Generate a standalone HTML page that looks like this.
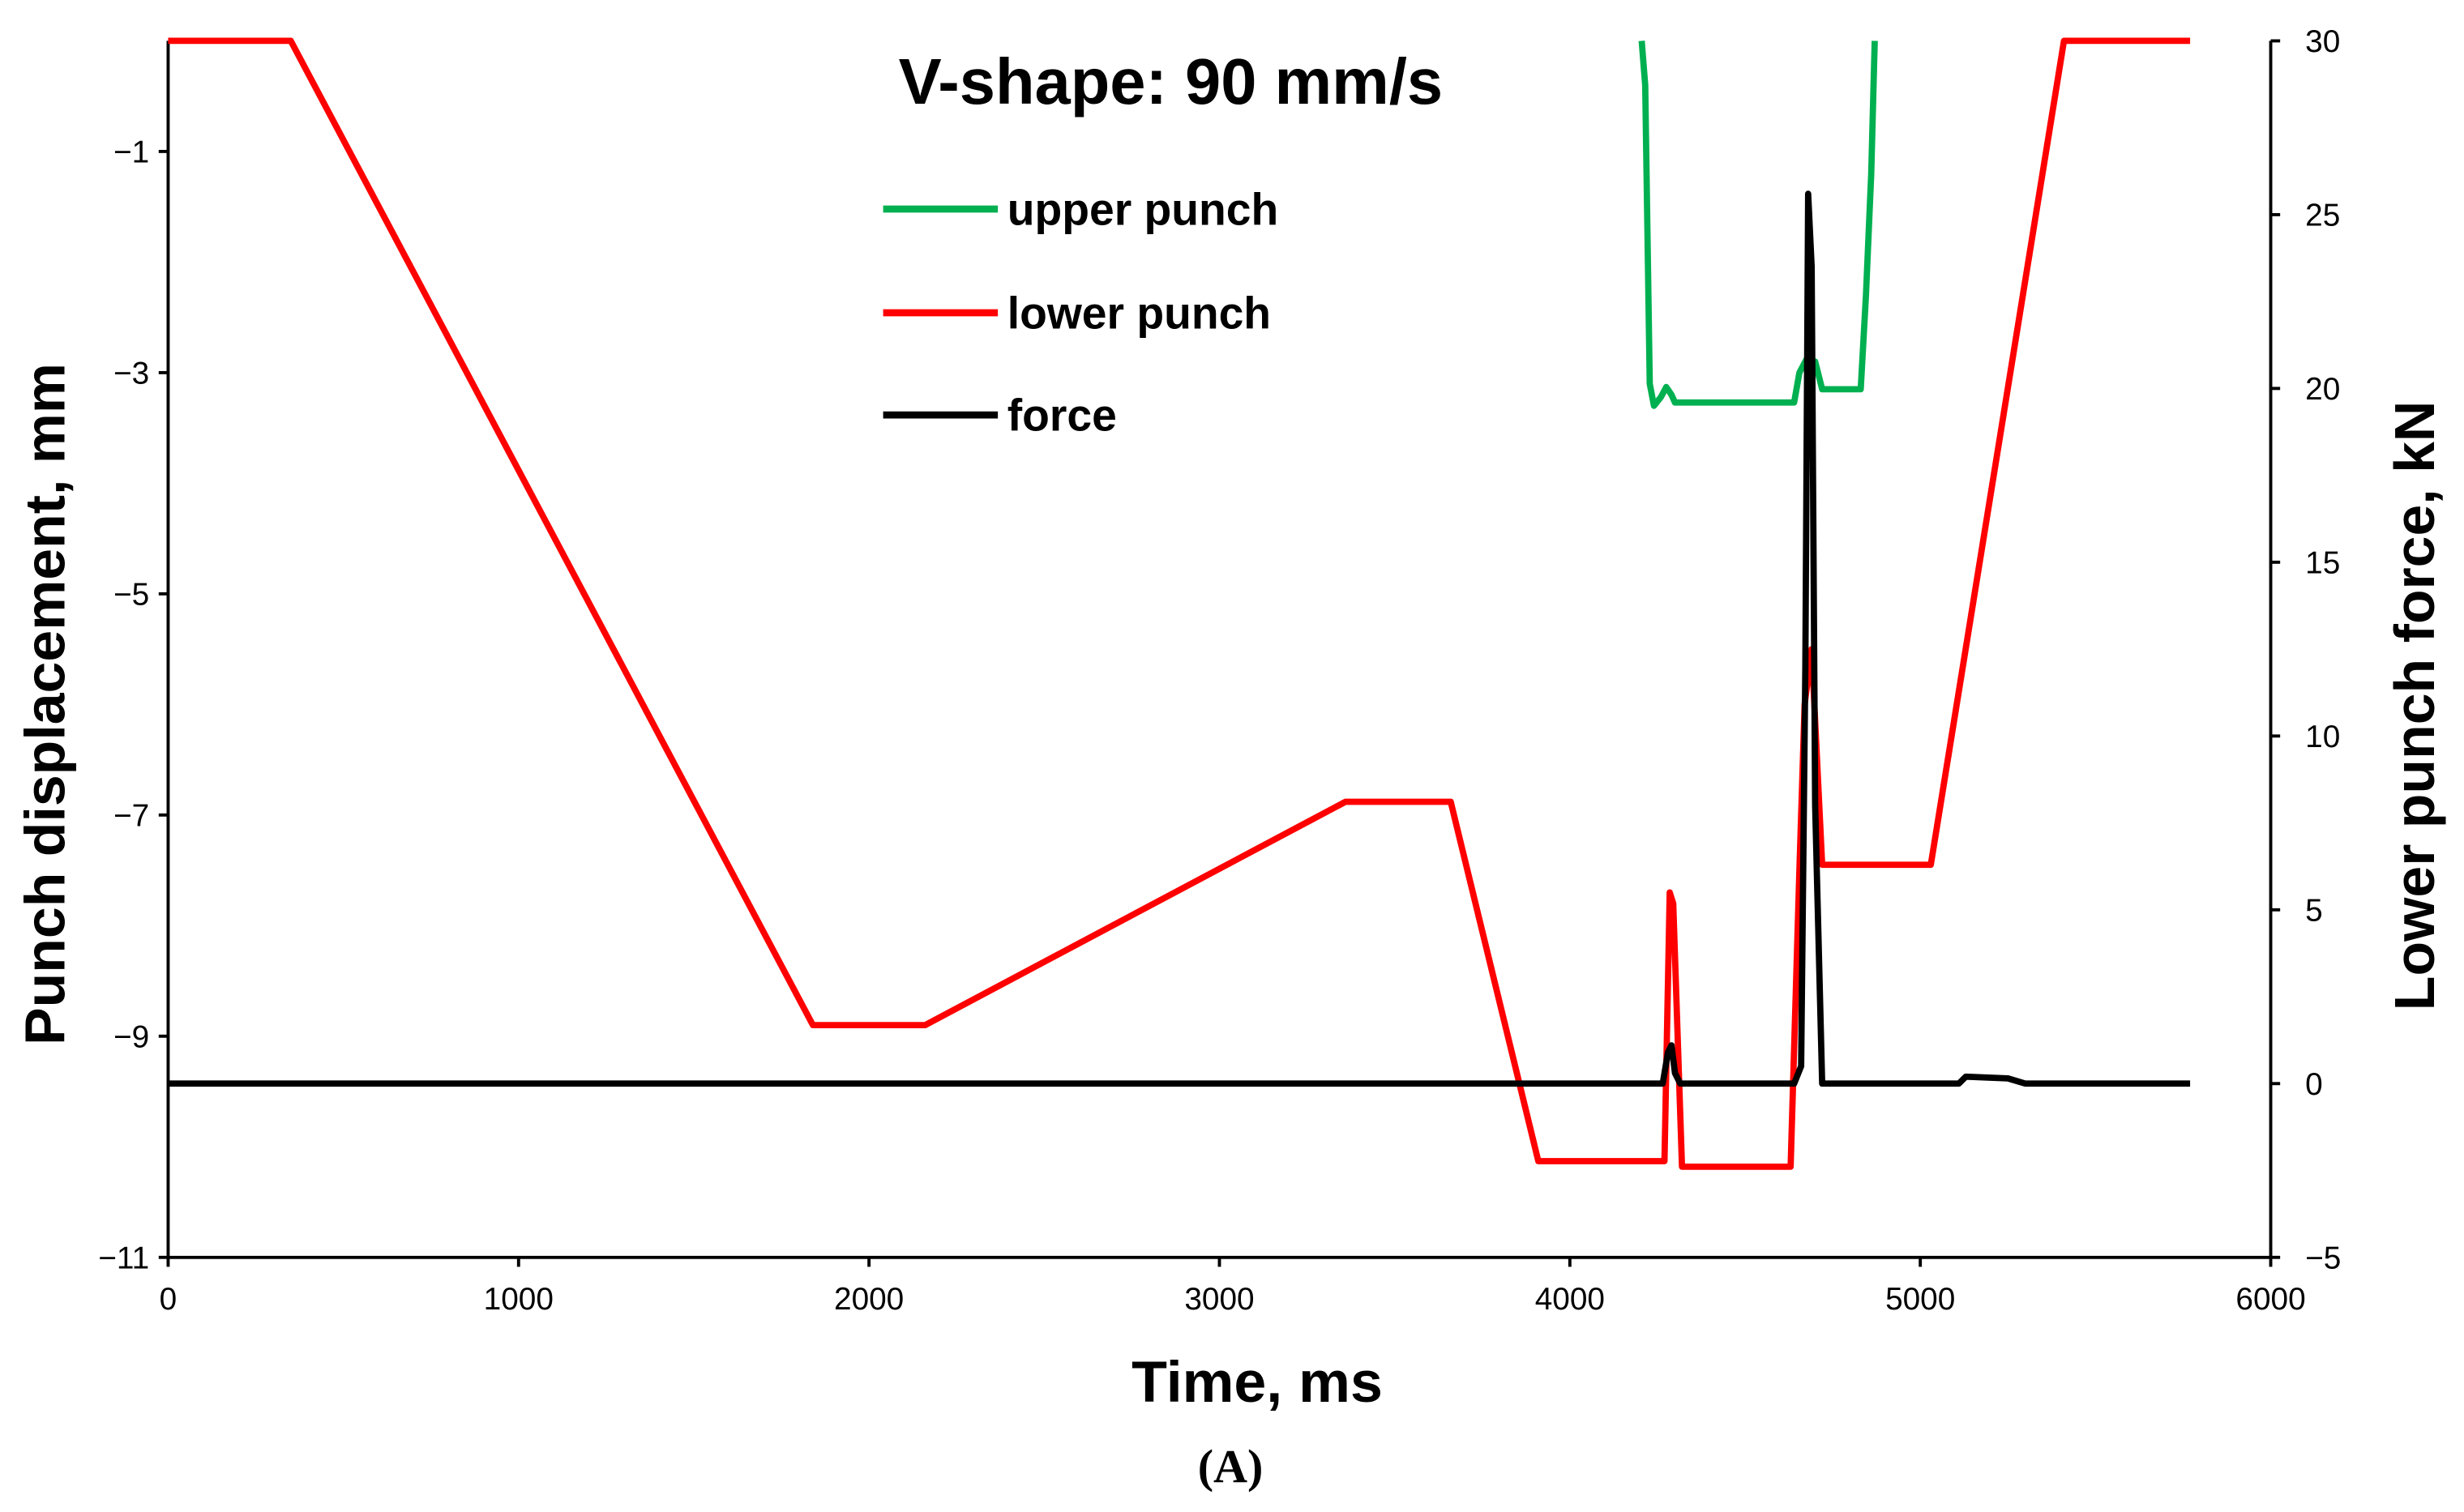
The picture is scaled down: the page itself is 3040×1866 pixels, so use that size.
<!DOCTYPE html>
<html><head><meta charset="utf-8">
<style>
html,body{margin:0;padding:0;background:#fff;}
svg{display:block;}
</style></head>
<body>
<svg id="chart" width="3040" height="1866" viewBox="0 0 1568 962" preserveAspectRatio="none" xmlns="http://www.w3.org/2000/svg" font-family="Liberation Sans, Arial, sans-serif">
<rect x="0" y="0" width="1568" height="962" fill="#fff"/>
</svg>
<script>
const xTicks=[0,1000,2000,3000,4000,5000,6000];
const yLeftTicks=[-1,-3,-5,-7,-9,-11];
const yRightTicks=[30,25,20,15,10,5,0,-5];
const lowerT=[0,350,1840,2160,3360,3660,3910,4270,4285,4295,4320,4630,4655,4670,4690,4720,5030,5410,5770];
const lowerV=[0,0,-8.9,-8.9,-6.88,-6.88,-10.13,-10.13,-7.7,-7.8,-10.18,-10.18,-7.5,-6.0,-5.5,-7.45,-7.45,0,0];
const upperT=[4205,4215,4228,4240,4260,4275,4290,4300,4640,4655,4675,4700,4720,4830,4845,4860,4870];
const upperV=[0,-0.4,-3.1,-3.3,-3.22,-3.13,-3.2,-3.27,-3.27,-3.0,-2.88,-2.9,-3.15,-3.15,-2.3,-1.2,0];
const forceT=[0,4265,4280,4290,4300,4315,4640,4660,4672,4680,4690,4700,4720,5110,5130,5250,5300,5770];
const forceV=[0,0,0.9,1.1,0.3,0,0,0.5,12,25.6,23.5,8,0,0,0.2,0.15,0,0];

const X0=107,X1=1445,YT=26,YB=800;
const sx=t=>X0+(t/6000)*(X1-X0);
const syL=v=>YB+(v+11)/11*(YT-YB);
const syR=v=>YB+(v+5)/35*(YT-YB);
const svg=document.getElementById('chart');
const NS='http://www.w3.org/2000/svg';
function mk(tag,attrs,txt){const e=document.createElementNS(NS,tag);for(const k in attrs)e.setAttribute(k,attrs[k]);if(txt!==undefined)e.textContent=txt;svg.appendChild(e);return e;}

let a=mk('line',{x1:X0,y1:YB,x2:X1,y2:YB,stroke:'#000','stroke-width':2});


a=mk('line',{x1:X0,y1:YT,x2:X0,y2:YB,stroke:'#000','stroke-width':2});


a=mk('line',{x1:X1,y1:YT,x2:X1,y2:YB,stroke:'#000','stroke-width':2});



xTicks.forEach(t=>{
  const x=sx(t);
  const l=mk('line',{x1:x,y1:YB,x2:x,y2:YB+6,stroke:'#000','stroke-width':2});
  
  
  const tx=mk('text',{x:x,y:YB+33,'font-size':20,'text-anchor':'middle'},String(t));
  
  
});
yLeftTicks.forEach(v=>{
  const y=syL(v);
  const l=mk('line',{x1:X0-6,y1:y,x2:X0,y2:y,stroke:'#000','stroke-width':2});
  
  
  const tx=mk('text',{x:X0-12,y:y+7,'font-size':20,'text-anchor':'end'},'\u2212'+Math.abs(v));
  
  
});
yRightTicks.forEach(v=>{
  const y=syR(v);
  const l=mk('line',{x1:X1,y1:y,x2:X1+6,y2:y,stroke:'#000','stroke-width':2});
  
  
  const tx=mk('text',{x:X1+22,y:y+7,'font-size':20,'text-anchor':'start'},v<0?'\u2212'+Math.abs(v):String(v));
  
  
});

function series(T,V,sy,color,w,name){
  const d=T.map((t,i)=>(i?'L':'M')+sx(t).toFixed(2)+' '+sy(V[i]).toFixed(2)).join(' ');
  const p=mk('path',{d:d,fill:'none',stroke:color,'stroke-width':w,'stroke-linejoin':'round'});
  
  
}
series(lowerT,lowerV,syL,'#ff0000',4,'lower-punch-line');
series(upperT,upperV,syL,'#00b050',4,'upper-punch-line');
series(forceT,forceV,syR,'#000000',4,'force-line');

const leg=[['upper punch','#00b050',133],['lower punch','#ff0000',199],['force','#000000',264]];
leg.forEach(([lab,c,y])=>{
  const l=mk('line',{x1:562,y1:y,x2:635,y2:y,stroke:c,'stroke-width':4.5});
  
  
  const t=mk('text',{x:641,y:y+10,'font-size':28.5,'font-weight':'bold'},lab);
  
  
});

let t=mk('text',{x:745,y:66,'font-size':41,'font-weight':'bold','text-anchor':'middle'},'V-shape: 90 mm/s');


t=mk('text',{x:800,y:892,'font-size':37,'font-weight':'bold','text-anchor':'middle'},'Time, ms');


t=mk('text',{x:0,y:0,'font-size':36,'font-weight':'bold','text-anchor':'middle',transform:'translate(41,448) rotate(-90)'},'Punch displacement, mm');


t=mk('text',{x:0,y:0,'font-size':36,'font-weight':'bold','text-anchor':'middle',transform:'translate(1549,449) rotate(-90)'},'Lower punch force, kN');


t=mk('text',{x:783,y:943,'font-size':30,'font-weight':'bold','text-anchor':'middle','font-family':'Liberation Serif, serif'},'(A)');


</script>
</body></html>
